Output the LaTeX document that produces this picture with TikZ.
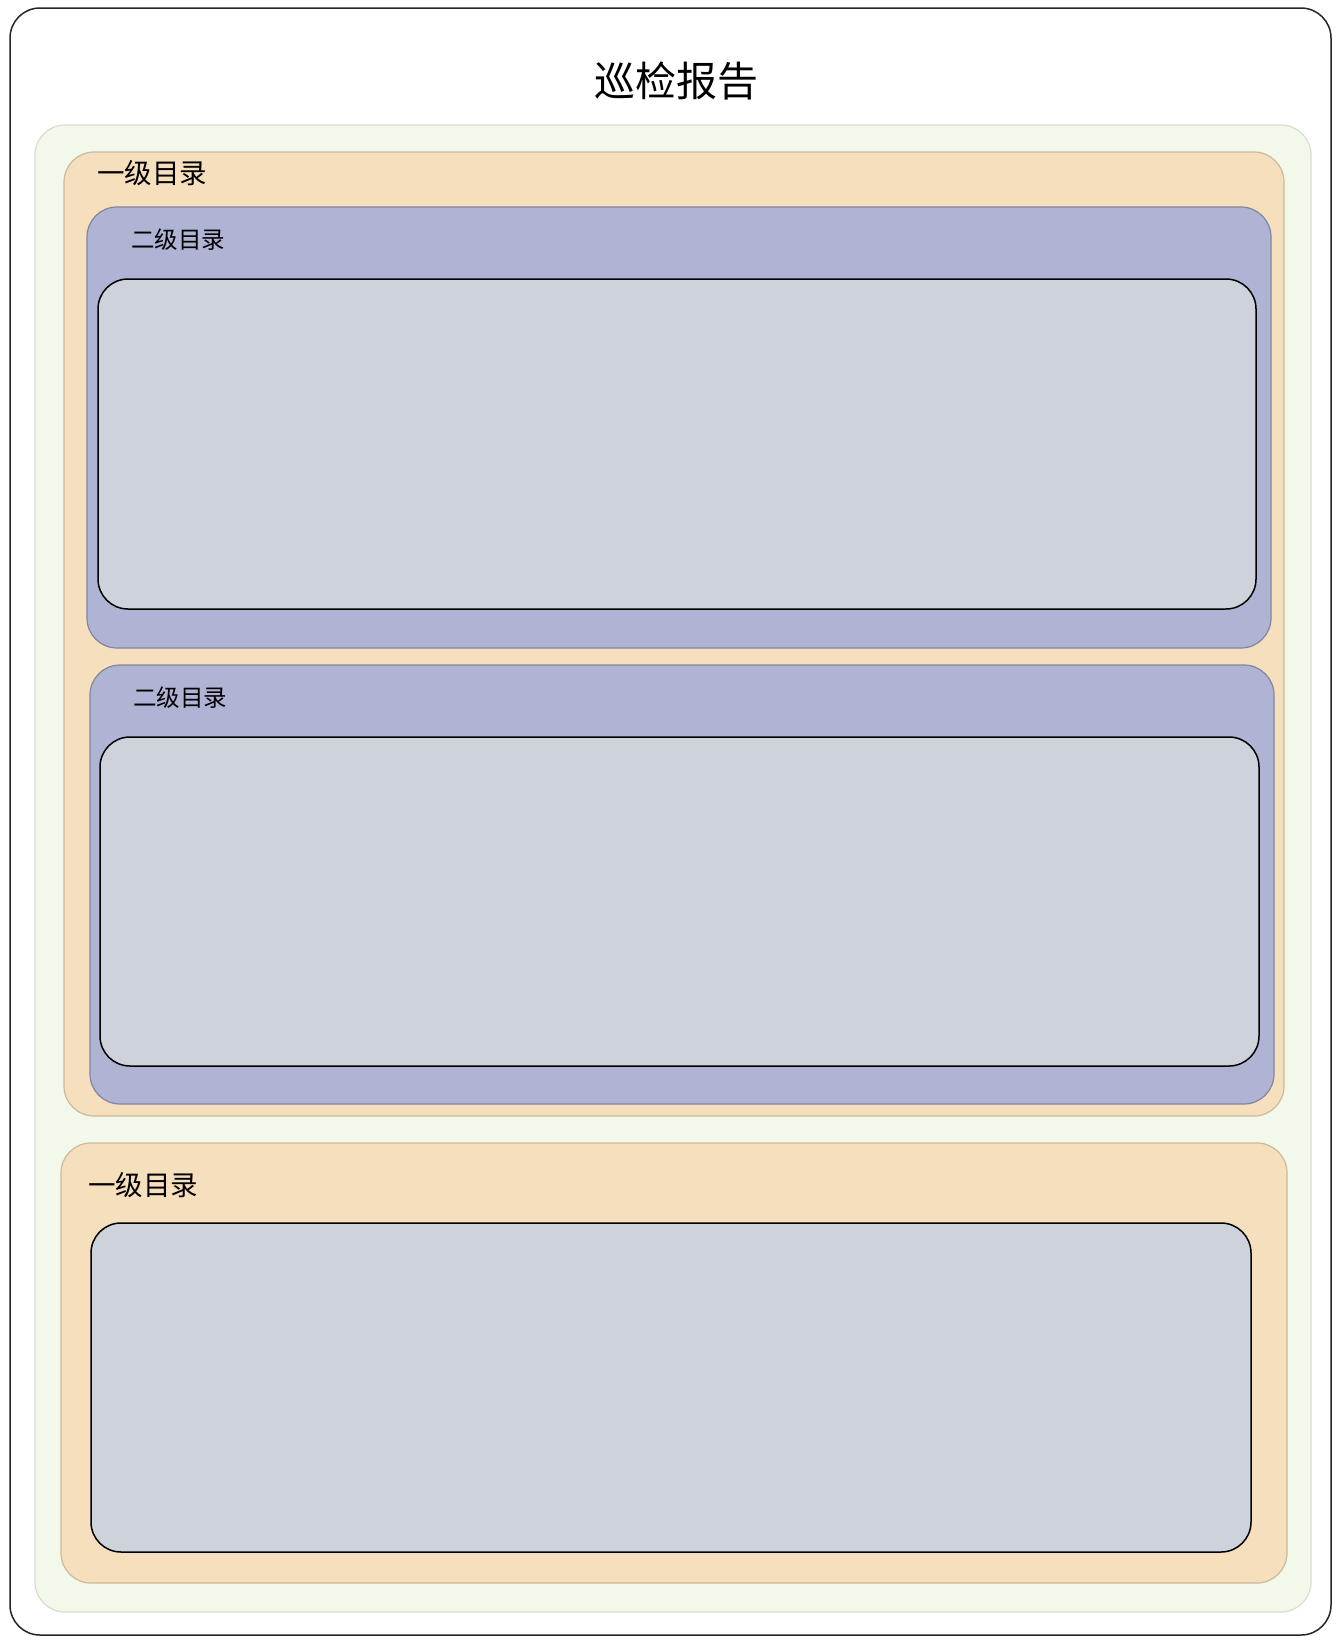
\documentclass[tikz,border=0pt]{standalone}
\usepackage{fontspec}
\setmainfont{Noto Sans CJK SC}
\definecolor{gfill}{RGB}{242,248,234}
\definecolor{gdraw}{RGB}{216,222,206}
\definecolor{ofill}{RGB}{245,223,189}
\definecolor{odraw}{RGB}{204,186,156}
\definecolor{pfill}{RGB}{175,179,212}
\definecolor{pdraw}{RGB}{130,133,160}
\definecolor{cfill}{RGB}{206,211,219}
\begin{document}
\begin{tikzpicture}[x=1pt,y=-1pt,
  box/.style={anchor=north west, inner sep=0pt, outer sep=0pt, rounded corners=30pt},
  outerbox/.style={box, draw=black!85, line width=1.5pt, fill=white},
  greenbox/.style={box, draw=gdraw, line width=1.2pt, fill=gfill},
  orangebox/.style={box, draw=odraw, line width=1.2pt, fill=ofill},
  purplebox/.style={box, draw=pdraw, line width=1.2pt, fill=pfill},
  contentbox/.style={box, draw=black, line width=1.5pt, fill=cfill},
  lbl/.style={anchor=west, inner sep=0pt, text=black}
]
\useasboundingbox (0,0) rectangle (1340,1644);
\fill[white] (0,0) rectangle (1340,1644);
\node[outerbox, minimum width=1321pt, minimum height=1627pt] (outer) at (10,8) {};
\node[anchor=center, inner sep=0pt, font=\fontsize{41}{48}\selectfont] (title) at (676,81) {巡检报告};
\node[greenbox, minimum width=1276pt, minimum height=1487pt] (green) at (35,125) {};
\node[orangebox, minimum width=1220pt, minimum height=964pt] (o1) at (64,152) {};
\node[lbl, font=\fontsize{27.5}{32}\selectfont] (o1lbl) at (97,173) {一级目录};
\node[purplebox, minimum width=1184pt, minimum height=441pt] (p1) at (87,207) {};
\node[lbl, font=\fontsize{23.5}{28}\selectfont] (p1lbl) at (131,240) {二级目录};
\node[contentbox, minimum width=1158pt, minimum height=330pt] (c1) at (98,279) {};
\node[purplebox, minimum width=1184pt, minimum height=439pt] (p2) at (90,665) {};
\node[lbl, font=\fontsize{23.5}{28}\selectfont] (p2lbl) at (133,698) {二级目录};
\node[contentbox, minimum width=1159pt, minimum height=329pt] (c2) at (100,737) {};
\node[orangebox, minimum width=1226pt, minimum height=440pt] (o2) at (61,1143) {};
\node[lbl, font=\fontsize{27.5}{32}\selectfont] (o2lbl) at (88,1185) {一级目录};
\node[contentbox, minimum width=1160pt, minimum height=329pt] (c3) at (91,1223) {};
\end{tikzpicture}
\end{document}
